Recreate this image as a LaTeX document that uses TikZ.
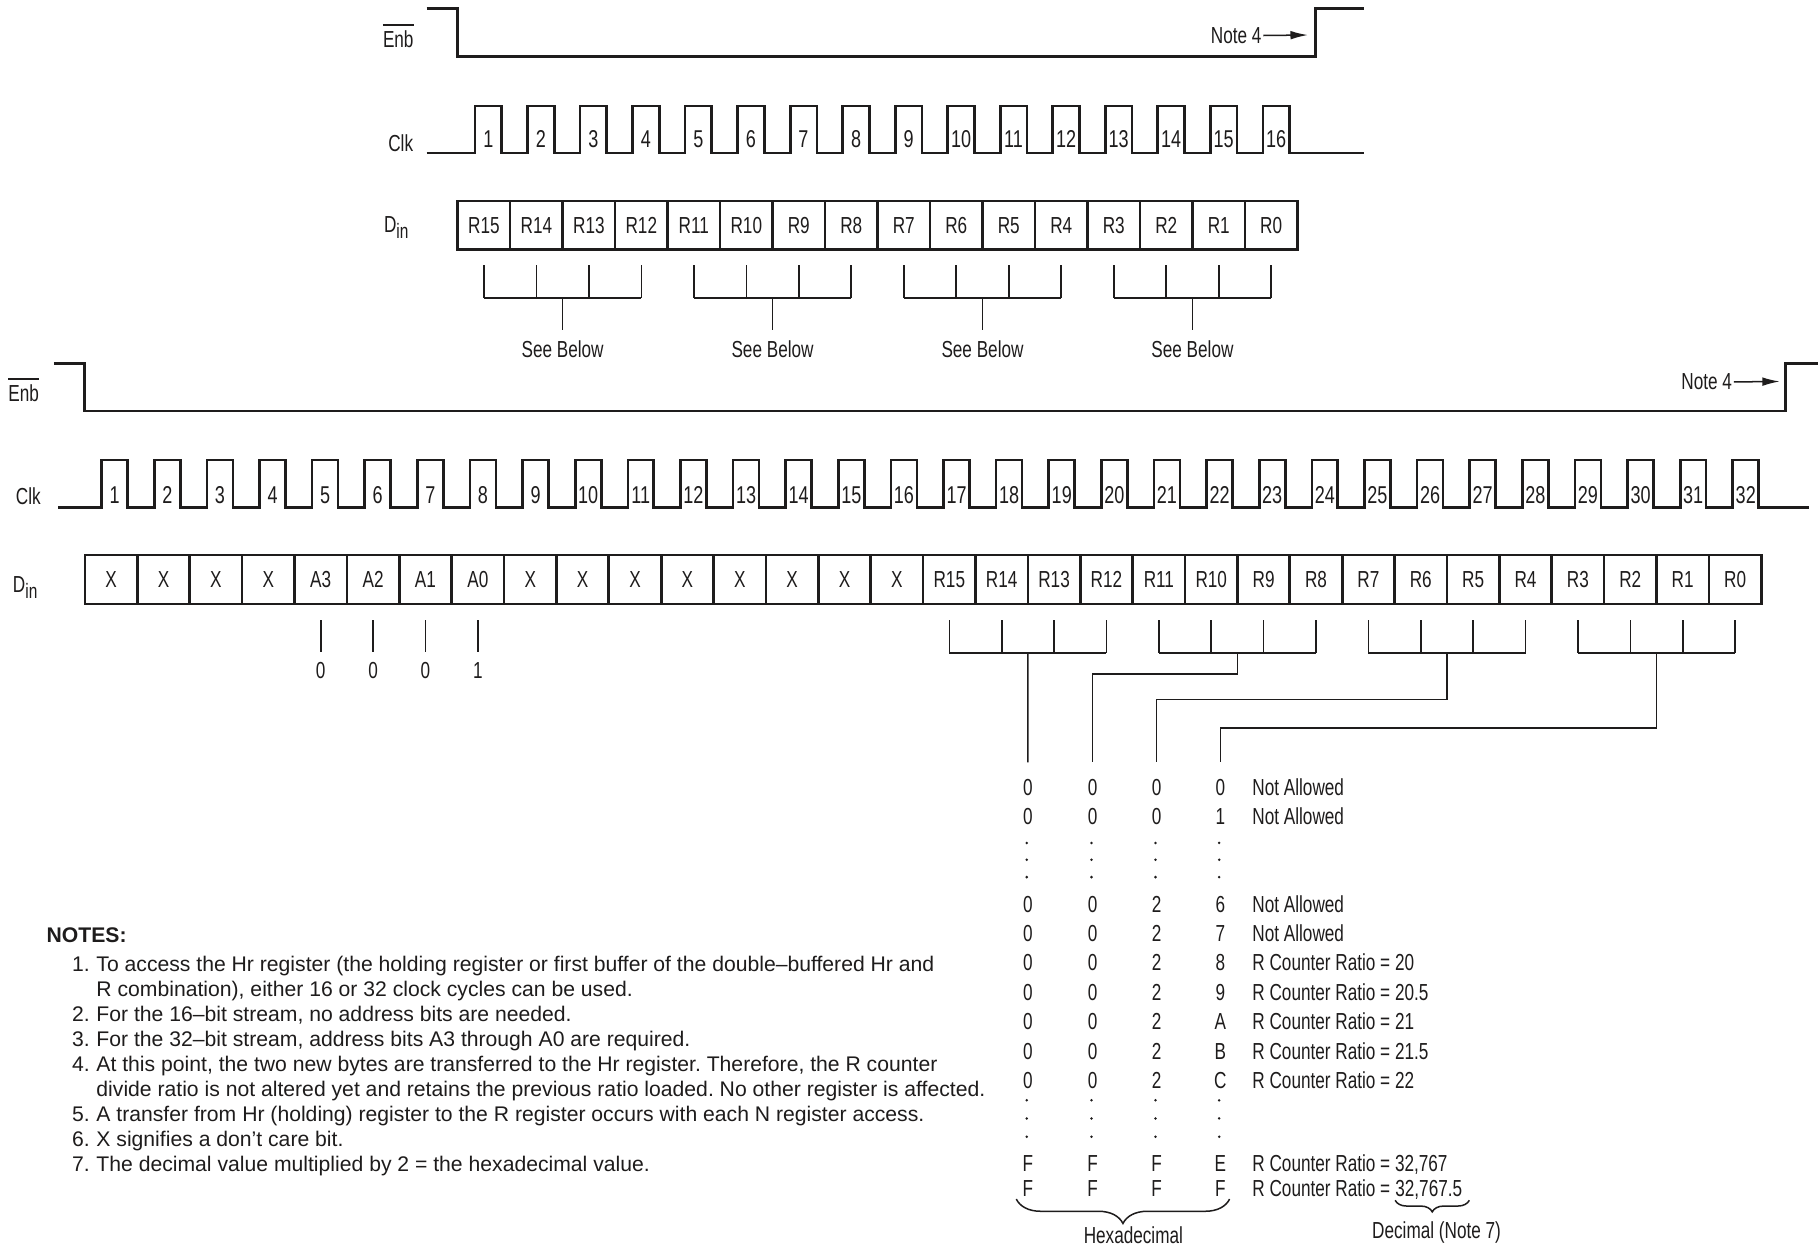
\documentclass[tikz,border=0pt]{standalone}
\usepackage{fontspec}
\setmainfont{Liberation Sans}
\newfontfamily\condfont{Liberation Sans}[FakeStretch=0.74]
\usetikzlibrary{arrows.meta,decorations.pathreplacing,calc}
\definecolor{ink}{RGB}{30,28,28}
\frenchspacing
\begin{document}
\begin{tikzpicture}[x=1pt,y=-1pt,
 lbl/.style={font={\condfont\fontsize{20}{24}\selectfont}, inner sep=0pt, text=ink},
 clkn/.style={font={\condfont\fontsize{21}{24}\selectfont}, inner sep=0pt, text=ink, anchor=base},
 notef/.style={font={\fontsize{18.25}{22}\selectfont}, inner sep=0pt, text=ink, anchor=base west},
 sig/.style={draw=ink, line width=2.3pt, line join=miter, line cap=butt},
 thinl/.style={draw=ink, line width=1.4pt},
 cell/.style={draw=ink, line width=2.3pt, minimum width=#1, minimum height=41.6pt, inner sep=0pt, font={\condfont\fontsize{20}{24}\selectfont}, text=ink},
 arr/.style={draw=ink, line width=1.3pt, -{Latex[length=15pt,width=7.5pt]}},
 brc/.style={draw=ink, line width=1.3pt, decorate, decoration={brace, mirror, amplitude=#1}},
 dotm/.style={circle, fill=ink, inner sep=0pt, minimum size=2.4pt},
]
\fill[white] (0,0) rectangle (1568,1076);
\useasboundingbox (0,0) rectangle (1568,1076);

%================ TOP (16-bit) =================
\node[lbl] (enbT) at (343.5,33.5) {Enb};
\draw[ink, line width=1.2pt] ([yshift=4.5pt]enbT.north west) -- ([yshift=4.5pt]enbT.north east);
\draw[sig] (368,7.2) -- (394.7,7.2) -- (394.7,48.9) -- (1134.5,48.9) -- (1134.5,7.2) -- (1176,7.2);
\node[lbl, anchor=base east] (n4t) at (1088.2,37.4) {Note 4};
\coordinate (n4tEnd) at (1128,30.2);
\draw[arr] ([xshift=1.5pt]n4t.east) -- (n4tEnd);

\node[lbl] (clkT) at (345.6,123.6) {Clk};
\draw[sig] (368,132) \foreach \k in {0,...,15}{ -| ({409.7+45.3*\k},91.4) -| ({432.7+45.3*\k},132)} -- (1176,132);
\foreach \k in {1,...,16}
  \node[clkn] (tc\k) at ({409.7+45.3*(\k-1)+11.5},127) {\k};

\node[lbl, anchor=base west] (dinT) at (331,200.7) {D\raisebox{-5pt}{\fontsize{18}{20}\selectfont in}};
\foreach \lab [count=\i] in {R15,R14,R13,R12,R11,R10,R9,R8,R7,R6,R5,R4,R3,R2,R1,R0}
  \node[cell=45.27pt] (t\i) at ({394.7+45.27*(\i-0.5)},194.2) {\lab};

\foreach \g in {0,...,3}{
  \pgfmathtruncatemacro\ga{4*\g+1}
  \pgfmathtruncatemacro\gd{4*\g+4}
  \foreach \j in {\ga,...,\gd}
    \draw[thinl] ([yshift=-12.7pt]t\j.south) -- ([yshift=-40.9pt]t\j.south);
  \draw[thinl] ([yshift=-40.9pt]t\ga.south) -- ([yshift=-40.9pt]t\gd.south);
  \coordinate (tg\g) at ($(t\ga.south)!0.5!(t\gd.south)$);
  \draw[thinl] ([yshift=-40.9pt]tg\g) -- ([yshift=-68.2pt]tg\g);
  \node[lbl] (see\g) at ([yshift=-85.4pt]tg\g) {See Below};
}

%================ BOTTOM (32-bit) =================
\node[lbl] (enbB) at (20.4,339) {Enb};
\draw[ink, line width=1.2pt] ([yshift=4.5pt]enbB.north west) -- ([yshift=4.5pt]enbB.north east);
\draw[sig] (46.5,313.4) -- (72.8,313.4) -- (72.8,354.5) -- (1540,354.5) -- (1540,313.4) -- (1568,313.4);
\node[lbl, anchor=base east] (n4b) at (1494,336.2) {Note 4};
\coordinate (n4bEnd) at (1535,329);
\draw[arr] ([xshift=1.5pt]n4b.east) -- (n4bEnd);

\node[lbl] (clkB) at (24.4,428.4) {Clk};
\draw[sig] (50.3,437.6) \foreach \k in {0,...,31}{ -| ({87.7+45.38*\k},396.8) -| ({110.1+45.38*\k},437.6)} -- (1560,437.6);
\foreach \k in {1,...,32}
  \node[clkn] (bc\k) at ({87.7+45.38*(\k-1)+11.2},434.5) {\k};

\node[lbl, anchor=base west] (dinB) at (11,511.2) {D\raisebox{-5pt}{\fontsize{18}{20}\selectfont in}};
\foreach \lab [count=\i] in {X,X,X,X,A3,A2,A1,A0,X,X,X,X,X,X,X,X,R15,R14,R13,R12,R11,R10,R9,R8,R7,R6,R5,R4,R3,R2,R1,R0}
  \node[cell=45.18pt, minimum height=42.3pt] (b\i) at ({73.3+45.18*(\i-0.5)},499.85) {\lab};

% address bits
\foreach \j/\v in {5/0,6/0,7/0,8/1}{
  \draw[thinl] ([yshift=-13pt]b\j.south) -- ([yshift=-40.5pt]b\j.south);
  \node[lbl] (av\j) at ([yshift=-56pt]b\j.south) {\v};
}

% R brackets
\foreach \g in {0,...,3}{
  \pgfmathtruncatemacro\ga{4*\g+17}
  \pgfmathtruncatemacro\gd{4*\g+20}
  \foreach \j in {\ga,...,\gd}
    \draw[thinl] ([yshift=-13pt]b\j.south) -- ([yshift=-41pt]b\j.south);
  \draw[thinl] ([yshift=-41pt]b\ga.south) -- ([yshift=-41pt]b\gd.south);
  \coordinate (bg\g) at ($(b\ga.south)!0.5!(b\gd.south)$);
}

% table
\def\cA{886.54}\def\cB{942.4}\def\cC{997.6}\def\cD{1052.5}
\foreach \yy/\a/\b/\c/\d/\t [count=\i] in {
  678.5/0/0/0/0/{Not Allowed},
  703.5/0/0/0/1/{Not Allowed},
  779.5/0/0/2/6/{Not Allowed},
  804.5/0/0/2/7/{Not Allowed},
  830/0/0/2/8/{R Counter Ratio = 20},
  855.5/0/0/2/9/{R Counter Ratio = 20.5},
  881/0/0/2/A/{R Counter Ratio = 21},
  906.5/0/0/2/B/{R Counter Ratio = 21.5},
  932/0/0/2/C/{R Counter Ratio = 22},
  1002.8/F/F/F/E/{R Counter Ratio = 32,767}}{
  \node[lbl, anchor=base] (r\i-1) at (\cA,\yy+7.2) {\a};
  \node[lbl, anchor=base] (r\i-2) at (\cB,\yy+7.2) {\b};
  \node[lbl, anchor=base] (r\i-3) at (\cC,\yy+7.2) {\c};
  \node[lbl, anchor=base] (r\i-4) at (\cD,\yy+7.2) {\d};
  \node[lbl, anchor=base west] (r\i-t) at (1080,\yy+7.2) {\t};
}
\node[lbl, anchor=base] (r11-1) at (\cA,1032.2) {F};
\node[lbl, anchor=base] (r11-2) at (\cB,1032.2) {F};
\node[lbl, anchor=base] (r11-3) at (\cC,1032.2) {F};
\node[lbl, anchor=base] (r11-4) at (\cD,1032.2) {F};
\node[lbl, anchor=base west] (r11-t) at (1080,1032.2) {R Counter Ratio =};
\node[lbl, anchor=base west] (dec) at ([xshift=4pt]r11-t.base east) {32,767.5};

% dots
\foreach \yy [count=\k] in {727,741.5,756.5,949,964.6,980.4}{
  \node[dotm] (dt\k-1) at (\cA-1,\yy) {};
  \node[dotm] (dt\k-2) at (\cB-1,\yy) {};
  \node[dotm] (dt\k-3) at (\cC-1,\yy) {};
  \node[dotm] (dt\k-4) at (\cD-1,\yy) {};
}

% connectors from brackets to table columns
\draw[thinl] ([yshift=-41pt]bg0) -- ([yshift=14pt]r1-1.north);
\draw[thinl] ([yshift=-41pt]bg1) -- ++(0,17.9) -| ([yshift=14pt]r1-2.north);
\draw[thinl] ([yshift=-41pt]bg2) -- ++(0,40.3) -| ([yshift=14pt]r1-3.north);
\draw[thinl] ([yshift=-41pt]bg3) -- ++(0,64.8) -| ([yshift=14pt]r1-4.north);

% braces
\draw[brc=21pt] ([shift={(-10pt,-2pt)}]r11-1.base) -- ([shift={(8pt,-2pt)}]r11-4.base);
\node[lbl] (hexl) at (977.5,1065) {Hexadecimal};
\draw[brc=10pt] ([shift={(0pt,-3pt)}]dec.base west) -- ([shift={(6pt,-3pt)}]dec.base east);
\node[lbl] (decl) at (1239,1063) {Decimal (Note 7)};

%================ NOTES =================
\node[notef, font={\bfseries\fontsize{18.25}{22}\selectfont}] (notes) at (40,812.5) {NOTES:};
\node[notef] (n1a) at (62,837.5) {1.};
\node[notef] (n1) at (83,837.5) {To access the Hr register (the holding register or first buffer of the double–buffered Hr and};
\node[notef] (n1b) at (83,859.1) {R combination), either 16 or 32 clock cycles can be used.};
\node[notef] (n2a) at (62,880.8) {2.};
\node[notef] (n2) at (83,880.8) {For the 16–bit stream, no address bits are needed.};
\node[notef] (n3a) at (62,902.4) {3.};
\node[notef] (n3) at (83,902.4) {For the 32–bit stream, address bits A3 through A0 are required.};
\node[notef] (n4a) at (62,924.0) {4.};
\node[notef] (n4) at (83,924.0) {At this point, the two new bytes are transferred to the Hr register. Therefore, the R counter};
\node[notef] (n4b2) at (83,945.7) {divide ratio is not altered yet and retains the previous ratio loaded. No other register is affected.};
\node[notef] (n5a) at (62,967.3) {5.};
\node[notef] (n5) at (83,967.3) {A transfer from Hr (holding) register to the R register occurs with each N register access.};
\node[notef] (n6a) at (62,988.9) {6.};
\node[notef] (n6) at (83,988.9) {X signifies a don’t care bit.};
\node[notef] (n7a) at (62,1010.5) {7.};
\node[notef] (n7) at (83,1010.5) {The decimal value multiplied by 2 = the hexadecimal value.};
\end{tikzpicture}
\end{document}
